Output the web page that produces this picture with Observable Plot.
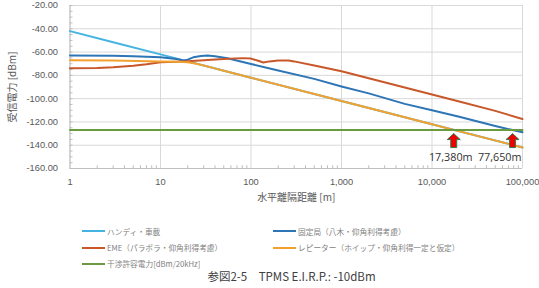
<!DOCTYPE html>
<html>
<head>
<meta charset="utf-8">
<script src="https://cdn.jsdelivr.net/npm/d3@7"></script>
<script src="https://cdn.jsdelivr.net/npm/@observablehq/plot@0.6"></script>
<style>
  html, body { margin: 0; padding: 0; background: #fff; }
  #wrap { position: relative; width: 539px; height: 288px; overflow: hidden; font-family: "Noto Sans CJK JP", "Liberation Sans", sans-serif; }
  #chart svg { display: block; }
  .leg { position: absolute; display: flex; align-items: center; height: 12px; font-size: 7.7px; color: #7f7f7f; white-space: nowrap; }
  .leg .sw { width: 23px; height: 2px; margin-right: 2px; }
  #caption { position: absolute; left: 0; width: 583px; top: 268px; text-align: center; font-size: 11.5px; color: #404040; white-space: pre; }
</style>
</head>
<body>
<div id="wrap">
  <div id="chart"></div>
  <div id="legend"></div>
  <div id="caption"></div>
</div>
<script>
// ---- data ----
const seriesNames = ["ハンディ・車載", "固定局（八木・仰角利得考慮）", "EME（パラボラ・仰角利得考慮）", "レピーター（ホイップ・仰角利得一定と仮定）", "干渉許容電力[dBm/20kHz]"];
const seriesColors = ["#45B4E3", "#2E75B6", "#C8572A", "#F2A12E", "#6A9B3F"];

const handyDist = [1, 3, 10, 20, 30, 100, 1000, 10000, 100000];
const handyVal  = [-42, -51.5, -62, -68, -71.5, -82, -102, -122, -142];

const fixedDist = [1, 3, 5, 7, 10, 15, 18, 20, 23, 28, 33, 40, 55, 100, 200, 500, 1000, 2000, 5000, 10000, 20000, 50000, 77650, 100000];
const fixedVal  = [-63, -63.2, -63.6, -64, -64.5, -66, -67.2, -66.5, -64.5, -63.4, -63, -63.5, -65.3, -70.2, -75.8, -83, -89.5, -95.5, -104.5, -110, -115.5, -123.5, -127, -128.8];

const emeDist = [1, 2, 3, 5, 7, 10, 15, 20, 30, 50, 80, 100, 120, 137, 160, 200, 260, 300, 500, 1000, 2000, 5000, 10000, 20000, 50000, 100000];
const emeVal  = [-74, -73.6, -73, -71.8, -70.5, -68.8, -68.3, -67.8, -67, -66, -65.2, -65.6, -67.5, -69, -68, -67.2, -67.3, -68, -71.5, -76.5, -82.5, -90.5, -96.5, -102.5, -110.5, -117.5];

const repDist = [1, 3, 10, 15, 20, 25, 30, 40, 50, 100, 1000, 10000, 17380, 100000];
const repVal  = [-67, -67.3, -68, -68.3, -68.8, -70, -71.5, -74, -76, -82, -102, -122, -126.8, -142];

const limitDist = [1, 100000];
const limitVal  = [-127, -127];

const crossDist = [17380, 77650];
const crossLevel = [-127, -127];
const crossLabels = ["17,380m", "77,650m"];

const xTicks = [1, 10, 100, 1000, 10000, 100000];
const yTicks = [-160, -140, -120, -100, -80, -60, -40, -20];
const yMinor = d3.range(-160, -19, 5);
const xMinor = d3.range(0, 5).flatMap(e => d3.range(2, 10).map(m => m * 10 ** e));

const xTitle = "水平離隔距離 [m]";
const yTitle = "受信電力 [dBm]";
const caption = "参図2-5　TPMS E.I.R.P.: -10dBm";

// ---- build table ----
const dists = [handyDist, fixedDist, emeDist, repDist, limitDist];
const vals = [handyVal, fixedVal, emeVal, repVal, limitVal];
const rows = dists.flatMap((ds, i) => ds.map((d, j) => ({series: seriesNames[i], d, v: vals[i][j]})));
const crossings = crossDist.map((d, i) => ({d, v: crossLevel[i], label: crossLabels[i]}));

const arrowSymbol = {
  draw(ctx) {
    ctx.moveTo(0, -7);
    ctx.lineTo(6.5, -1);
    ctx.lineTo(3, -1);
    ctx.lineTo(3, 7);
    ctx.lineTo(-3, 7);
    ctx.lineTo(-3, -1);
    ctx.lineTo(-6.5, -1);
    ctx.closePath();
  }
};

const axisColor = "#595959";
const chart = Plot.plot({
  width: 539,
  height: 210,
  marginTop: 5,
  marginBottom: 42,
  marginLeft: 69.5,
  marginRight: 17,
  style: {fontFamily: "'Liberation Sans', sans-serif", fontSize: "9.3px", color: axisColor, background: "#fff"},
  x: {type: "log", domain: [1, 100000]},
  y: {domain: [-160, -20]},
  color: {domain: seriesNames, range: seriesColors},
  marks: [
    Plot.gridY(yTicks, {stroke: "#d9d9d9", strokeOpacity: 1}),
    Plot.gridX(xTicks, {stroke: "#d9d9d9", strokeOpacity: 1}),
    Plot.ruleY([-160], {stroke: "#bfbfbf"}),
    Plot.ruleX([1], {stroke: "#bfbfbf"}),
    Plot.ruleX(xMinor, {y1: -160, y2: -157.6, stroke: "#bfbfbf"}),
    Plot.ruleY(yMinor, {x1: 1, x2: 1.08, stroke: "#bfbfbf"}),
    Plot.axisY(yTicks, {tickSize: 0, tickPadding: 12, tickFormat: d => d.toFixed(2), label: null, fill: axisColor}),
    Plot.axisX(xTicks, {tickSize: 0, tickPadding: 10, tickFormat: d3.format(","), label: null, fill: axisColor}),
    Plot.line(rows, {x: "d", y: "v", z: "series", stroke: "series", strokeWidth: 2}),
    Plot.dot(crossings, {x: "d", y: "v", symbol: arrowSymbol, fill: "#F00000", stroke: "#2E7D4F", strokeWidth: 1, dy: 10.5}),
    Plot.text(crossings.slice(0, 1), {x: "d", y: "v", text: "label", dy: 27.5, dx: -3, fontSize: 10.8, fill: "#333", fontFamily: "'Open Sans', sans-serif"}),
    Plot.text(crossings.slice(1), {x: "d", y: "v", text: "label", dy: 27.5, dx: 9, textAnchor: "end", fontSize: 10.8, fill: "#333", fontFamily: "'Open Sans', sans-serif"}),
    Plot.text([yTitle], {frameAnchor: "left", textAnchor: "middle", rotate: -90, dx: -57, fontSize: 10, fill: axisColor, fontFamily: "'Noto Sans CJK JP', sans-serif"}),
    Plot.text([xTitle], {frameAnchor: "bottom", dy: 32, fontSize: 10, fill: axisColor, fontFamily: "'Noto Sans CJK JP', sans-serif"})
  ]
});
document.getElementById("chart").appendChild(chart);

// ---- legend ----
const legPos = [[82, 231], [273, 231], [82, 247.5], [273, 247.5], [82, 263.5]];
const legend = document.getElementById("legend");
seriesNames.forEach((name, i) => {
  const item = document.createElement("div");
  item.className = "leg";
  item.style.left = legPos[i][0] + "px";
  item.style.top = (legPos[i][1] - 6) + "px";
  const sw = document.createElement("span");
  sw.className = "sw";
  sw.style.background = seriesColors[i];
  const tx = document.createElement("span");
  tx.textContent = name;
  item.appendChild(sw);
  item.appendChild(tx);
  legend.appendChild(item);
});
document.getElementById("caption").textContent = caption;
</script>
</body>
</html>
